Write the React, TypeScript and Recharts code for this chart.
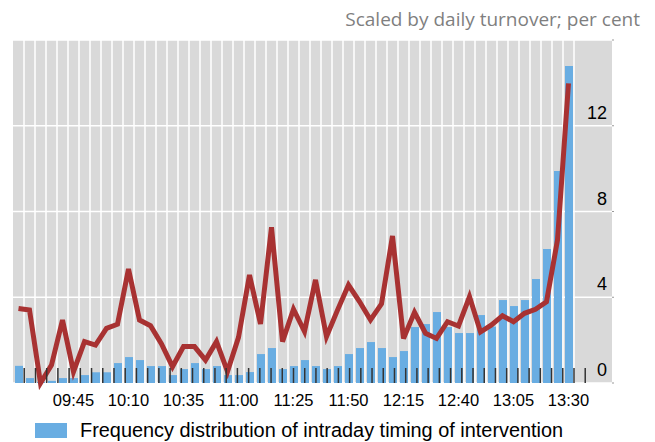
import { ComposedChart, Bar, Line, XAxis, YAxis, CartesianGrid } from 'recharts';

// five-minute slots, 09:20 to 13:30
const TIMES = [
  '09:20', '09:25', '09:30', '09:35', '09:40', '09:45', '09:50', '09:55', '10:00', '10:05',
  '10:10', '10:15', '10:20', '10:25', '10:30', '10:35', '10:40', '10:45', '10:50', '10:55',
  '11:00', '11:05', '11:10', '11:15', '11:20', '11:25', '11:30', '11:35', '11:40', '11:45',
  '11:50', '11:55', '12:00', '12:05', '12:10', '12:15', '12:20', '12:25', '12:30', '12:35',
  '12:40', '12:45', '12:50', '12:55', '13:00', '13:05', '13:10', '13:15', '13:20', '13:25',
  '13:30',
];

// blue bars: frequency distribution of intraday timing of intervention
const FREQUENCY = [
  0.8, 0.23, 0.05, 0.1, 0.23, 0.23, 0.37, 0.5, 0.5, 0.93,
  1.21, 1.07, 0.79, 0.79, 0.37, 0.65, 0.93, 0.65, 0.79, 0.37,
  0.37, 0.51, 1.35, 1.63, 0.65, 0.79, 1.07, 0.79, 0.65, 0.79,
  1.35, 1.63, 1.91, 1.63, 1.21, 1.49, 2.61, 2.75, 3.31, 2.61,
  2.33, 2.33, 3.17, 2.63, 3.87, 3.59, 3.87, 4.85, 6.25, 9.89,
  14.79,
];

// red line (no legend entry)
const TURNOVER = [
  3.48, 3.41, 0.0, 0.84, 2.94, 0.53, 1.93, 1.77, 2.55, 2.74,
  5.32, 2.94, 2.67, 1.82, 0.76, 1.7, 1.7, 1.07, 1.93, 0.53,
  2.13, 5.04, 2.75, 7.26, 1.93, 3.44, 2.4, 4.81, 2.16, 3.4,
  4.57, 3.8, 2.94, 3.69, 6.86, 2.08, 3.3, 2.32, 2.08, 2.86,
  2.66, 4.03, 2.38, 2.71, 3.14, 2.86, 3.25, 3.44, 3.79, 6.67,
  13.98,
];

const X_TICKS = ['09:45', '10:10', '10:35', '11:00', '11:25', '11:50', '12:15', '12:40', '13:05', '13:30'];
const Y_TICKS = [0, 4, 8, 12, 16];
const Y_LABELS = [0, 4, 8, 12];
// slot boundaries (1..51) for the separators and the small ticks at the bottom
const EDGE_TICKS = TIMES.map((_, i) => i + 1);

const data = TIMES.map((time, i) => ({ time, freq: FREQUENCY[i], turnover: TURNOVER[i] }));

const PAD_RIGHT = 38;
const BLUE = '#69ade2';
const RED = '#a83232';
const GREY = '#d9d9d9';
const ARIAL = '"Liberation Sans", Arial, sans-serif';

function RightTick({ x, y, payload }: any) {
  if (!Y_LABELS.includes(payload.value)) return <g />;
  return (
    <text x={x - 7} y={y - 7} textAnchor="end" fontSize={18} fontFamily={ARIAL} fill="#000">
      {payload.value}
    </text>
  );
}

function NoLabel() {
  return <g />;
}

// white separators between the five-minute slots
function slotEdges({ offset }: any) {
  const step = (offset.width - PAD_RIGHT) / TIMES.length;
  return EDGE_TICKS.map((t) => offset.left + t * step);
}

export default function App() {
  return (
    <div style={{ position: 'absolute', left: 0, top: 0, width: 655, height: 442, background: '#fff' }}>
      <div style={{
        position: 'absolute', top: 8, right: 15, fontFamily: '"Open Sans", sans-serif',
        fontSize: 19, lineHeight: '22px', color: '#7f7f7f', whiteSpace: 'nowrap',
      }}>
        Scaled by daily turnover; per cent
      </div>
      <ComposedChart width={655} height={442} data={data} margin={{ top: 40, right: 35, left: 13, bottom: 29 }}>
        <CartesianGrid
          fill={GREY}
          fillOpacity={1}
          stroke="#fff"
          strokeWidth={1.5}
          verticalCoordinatesGenerator={slotEdges}
        />
        <XAxis
          xAxisId="cat"
          dataKey="time"
          ticks={X_TICKS}
          interval={0}
          padding={{ left: 0, right: PAD_RIGHT }}
          tickLine={false}
          axisLine={false}
          tickMargin={5}
          height={30}
          tick={{ fontSize: 16.5, fill: '#000', fontFamily: ARIAL }}
        />
        <XAxis
          xAxisId="edge"
          type="number"
          domain={[0, TIMES.length]}
          ticks={EDGE_TICKS}
          interval={0}
          padding={{ left: 0, right: PAD_RIGHT }}
          mirror
          tick={<NoLabel />}
          tickSize={15}
          tickLine={{ stroke: '#333', strokeWidth: 1.5 }}
          axisLine={false}
          height={1}
        />
        <YAxis
          orientation="right"
          domain={[0, 16]}
          ticks={Y_TICKS}
          interval={0}
          width={8}
          tickSize={2}
          tickMargin={0}
          tickLine={{ stroke: '#999' }}
          axisLine={false}
          tick={<RightTick />}
        />
        <Bar xAxisId="cat" dataKey="freq" fill={BLUE} barSize={8} isAnimationActive={false} />
        <Line
          xAxisId="cat"
          dataKey="turnover"
          type="linear"
          stroke={RED}
          strokeWidth={5}
          dot={false}
          legendType="none"
          isAnimationActive={false}
        />
      </ComposedChart>
      <div style={{ position: 'absolute', left: 35, top: 419, display: 'flex', alignItems: 'center', fontFamily: ARIAL, fontSize: 19.9, color: '#000', whiteSpace: 'nowrap' }}>
        <span style={{ display: 'inline-block', width: 32, height: 15, background: BLUE, marginRight: 13 }} />
        Frequency distribution of intraday timing of intervention
      </div>
    </div>
  );
}
